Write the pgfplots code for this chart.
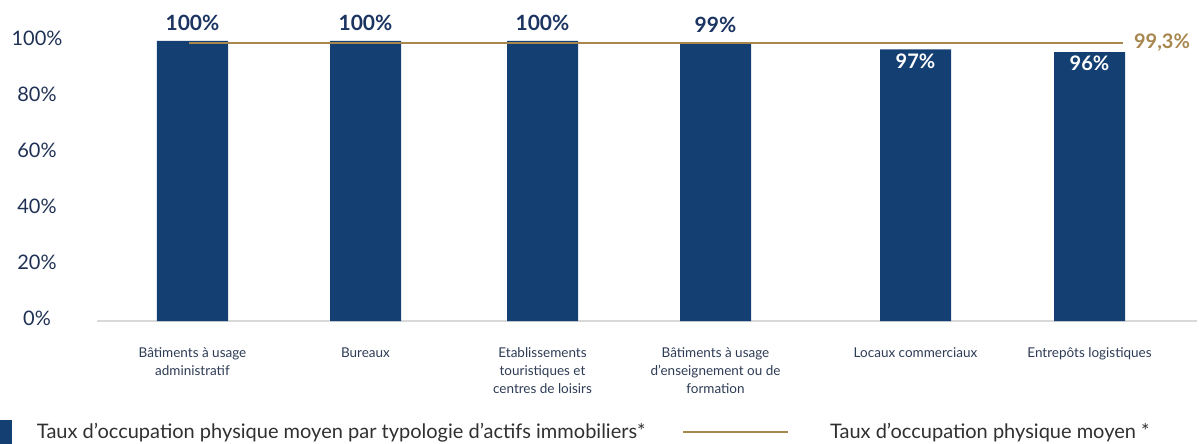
\documentclass[border=0pt]{standalone}
\usepackage{fontspec}
\setmainfont{Lato}
\usepackage{pgfplots}
\pgfplotsset{compat=1.18}
\definecolor{barblue}{HTML}{143F73}
\definecolor{gold}{HTML}{A8874F}
\definecolor{tickcol}{HTML}{1E3054}
\definecolor{labelcol}{HTML}{1B3461}
\definecolor{catcol}{HTML}{2D3B55}
\definecolor{legcol}{HTML}{303030}
\definecolor{axisgray}{HTML}{D9D9D9}
\newcommand{\st}{\rule{0pt}{13pt}}
\begin{document}
\begin{tikzpicture}
\begin{axis}[
  scale only axis, width=1100pt, height=280pt,
  xmin=97, xmax=1197, ymin=0, ymax=100,
  clip=false,
  axis x line=bottom, axis y line=left,
  x axis line style={-, draw=axisgray, line width=1.3pt},
  y axis line style={draw=none},
  tick style={draw=none}, major tick length=0pt,
  xtick={192.5,365.5,542.5,715.5,915.5,1089.5},
  xticklabels={{\st Bâtiments à usage\\administratif}, {\st Bureaux}, {\st Etablissements\\touristiques et\\centres de loisirs}, {\st Bâtiments à usage\\d’enseignement ou de\\formation}, {\st Locaux commerciaux}, {\st Entrepôts logistiques}},
  xticklabel style={align=center, anchor=north, yshift=-23pt, inner sep=0pt, font=\fontsize{13.5}{18}\selectfont, text=catcol},
  ytick={0,20,40,60,80,100},
  yticklabels={0\%,20\%,40\%,60\%,80\%,100\%},
  yticklabel style={anchor=center, xshift=-60pt, yshift=3pt, inner sep=0pt, font=\fontsize{20}{24}\selectfont, text=tickcol},
  legend columns=2,
  legend cell align=left,
  legend style={draw=none, fill=none, inner sep=0pt, outer sep=0pt,
    at={(rel axis cs:-0.09909,-0.39643)}, anchor=west,
    nodes={inner sep=0pt, font=\fontsize{20}{24}\selectfont, text=legcol},
    /tikz/column 1/.style={column sep=25pt},
    /tikz/column 2/.style={column sep=37pt},
    /tikz/column 3/.style={column sep=40.5pt}},
]
\addplot[ybar, bar width=71, bar shift=0pt, fill=barblue, draw=none,
  point meta=explicit symbolic, nodes near coords,
  every node near coord/.append style={anchor=center, yshift=18.5pt, inner sep=0pt, font=\bfseries\fontsize{21}{25}\selectfont, text=labelcol},
  legend image code/.code={\fill[barblue] (0pt,-12pt) rectangle (24pt,12pt);}]
  coordinates {(192.5,100) [100\%] (365.5,100) [100\%] (542.5,100) [100\%] (715.5,99) [99\%]};
\addlegendentry{Taux d’occupation physique moyen par typologie d’actifs immobiliers*}
\addplot[ybar, bar width=71, bar shift=0pt, fill=barblue, draw=none, forget plot,
  point meta=explicit symbolic, nodes near coords,
  every node near coord/.append style={anchor=center, yshift=-11.5pt, inner sep=0pt, font=\bfseries\fontsize{20}{24}\selectfont, text=white}]
  coordinates {(915.5,97) [97\%] (1089.5,96) [96\%]};
\addplot[gold, line width=2.2pt, no markers,
  legend image code/.code={\draw[gold, line width=2.2pt] (0pt,0pt) -- (105pt,0pt);}]
  coordinates {(189,99.3) (1123,99.3)}
  node[pos=1, anchor=west, xshift=10pt, inner sep=0pt, font=\bfseries\fontsize{20}{24}\selectfont, text=gold] {99,3\%};
\addlegendentry{Taux d’occupation physique moyen *}
\end{axis}
\pgfresetboundingbox
\path[use as bounding box] (-97pt,-123pt) rectangle (1102pt,321pt);
\end{tikzpicture}
\end{document}
